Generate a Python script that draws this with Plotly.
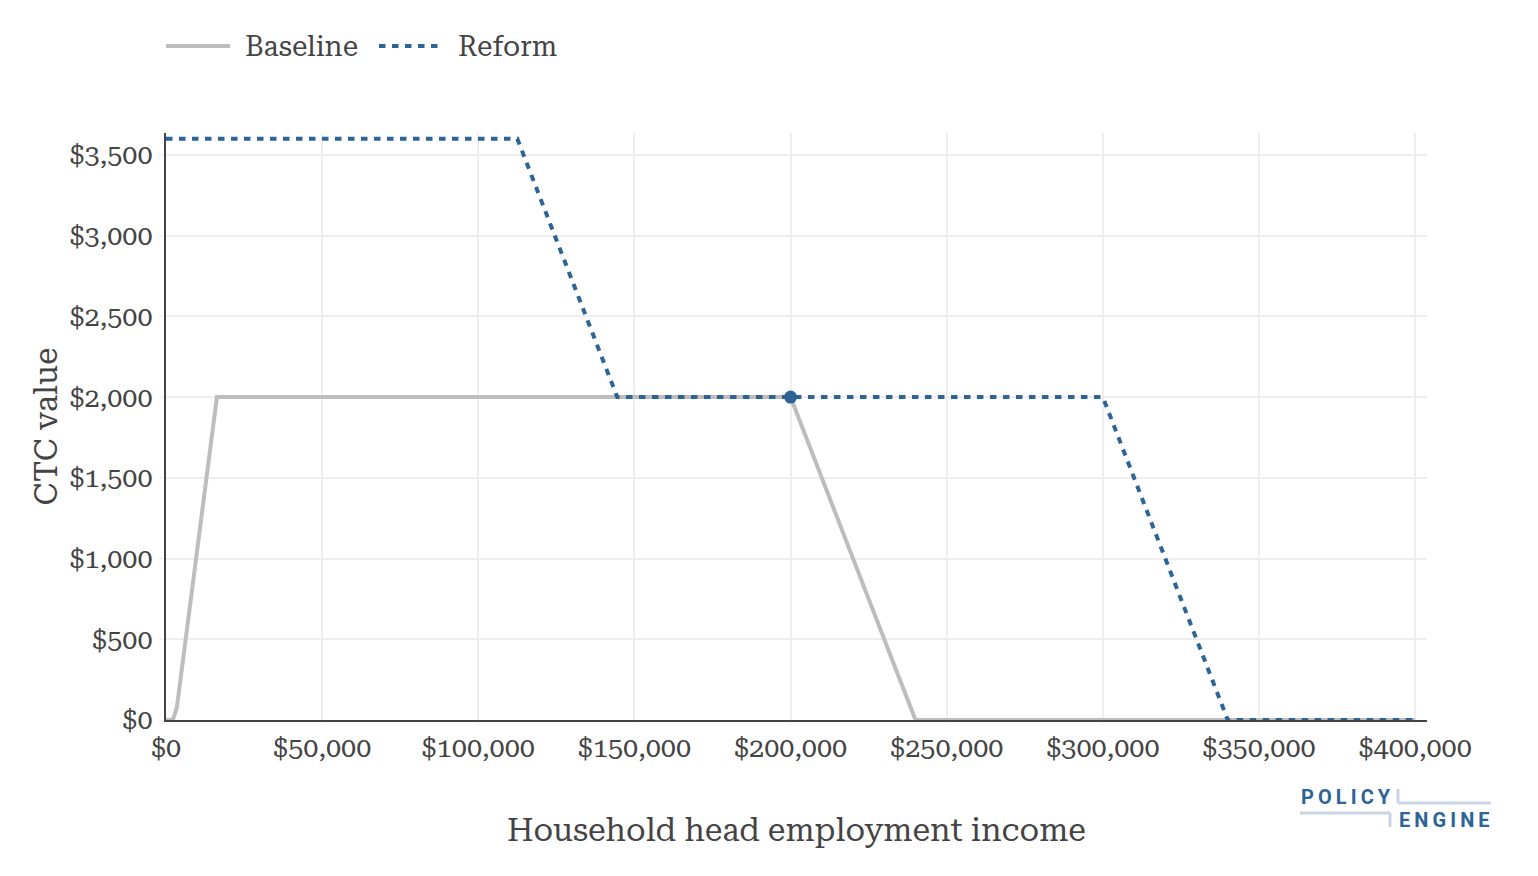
import plotly.graph_objects as go

# CTC schedule breakpoints
baseline_income = [0, 2200, 3500, 16300, 200000, 240000, 400000]
baseline_ctc = [0, 0, 80, 2000, 2000, 0, 0]

reform_income = [0, 112500, 144500, 200000, 300000, 340000, 400000]
reform_ctc = [3600, 3600, 2000, 2000, 2000, 0, 0]

# current household marker
marker_income = [200000]
marker_ctc = [2000]

legend_names = ["Baseline", "Reform"]

GRAY = "#BDBDBD"
BLUE = "#2C6496"
LIGHT = "#C8D4E3"
FONT = "Roboto Serif, DejaVu Serif, serif"
DASH = "6.5px,6.5px"

fig = go.Figure()
fig.add_trace(go.Scatter(x=baseline_income, y=baseline_ctc, mode="lines", name=legend_names[0],
                         line=dict(color=GRAY, width=4)))
fig.add_trace(go.Scatter(x=reform_income, y=reform_ctc, mode="lines", name=legend_names[1],
                         line=dict(color=BLUE, width=4, dash=DASH)))
fig.add_trace(go.Scatter(x=marker_income, y=marker_ctc, mode="markers",
                         marker=dict(color=BLUE, size=13)))

# page body has an 8px margin, so the figure is a bit smaller than the window
fig.update_layout(
    width=1522, height=860,
    margin=dict(l=158, r=103, t=125, b=148),
    plot_bgcolor="white", paper_bgcolor="white",
    showlegend=False,
    font=dict(family=FONT, size=27, color="#444"),
    xaxis=dict(title=dict(text="Household head employment income", font=dict(size=32), standoff=55),
               range=[0, 403800], tickformat="$,", dtick=50000,
               showgrid=True, gridcolor="#eee", gridwidth=2,
               zeroline=False, showline=True, linecolor="#444", linewidth=2,
               ticks="outside", ticklen=3, tickcolor="#eee"),
    yaxis=dict(title=dict(text="CTC value", font=dict(size=32), standoff=2),
               range=[0, 3636], tickformat="$,", dtick=500,
               showgrid=True, gridcolor="#eee", gridwidth=2,
               zeroline=False, showline=True, linecolor="#444", linewidth=2,
               ticks="outside", ticklen=6, tickcolor="#eee"),
)

# helpers: reference pixel -> paper coords
def px_x(p):
    return (p - 166) / 1261

def px_y(p):
    return (720 - p) / 587

# legend drawn by hand (longer line samples than plotly's)
fig.add_shape(type="line", xref="paper", yref="paper", x0=px_x(166), x1=px_x(230),
              y0=px_y(46), y1=px_y(46), line=dict(color=GRAY, width=4))
fig.add_shape(type="line", xref="paper", yref="paper", x0=px_x(379), x1=px_x(440),
              y0=px_y(46), y1=px_y(46), line=dict(color=BLUE, width=4, dash=DASH))
for name, xpos in zip(legend_names, [243, 456]):
    fig.add_annotation(text=name, x=px_x(xpos), y=px_y(46), xref="paper", yref="paper",
                       xanchor="left", yanchor="middle", showarrow=False,
                       font=dict(size=28))

# PolicyEngine logo drawn with text and lines
for word, xpos, ypos in [("POLICY", 1299, 797), ("ENGINE", 1397, 820)]:
    fig.add_annotation(text="<b>" + "\u2009".join(word) + "</b>", x=px_x(xpos), y=px_y(ypos),
                       xref="paper", yref="paper", xanchor="left", yanchor="middle",
                       showarrow=False, font=dict(family="Roboto", size=20, color=BLUE))
for x0, y0, x1, y1 in [(1300, 813, 1390, 813), (1390, 813, 1390, 827),
                       (1398, 789, 1398, 803), (1398, 803, 1491, 803)]:
    fig.add_shape(type="line", xref="paper", yref="paper",
                  x0=px_x(x0), y0=px_y(y0), x1=px_x(x1), y1=px_y(y1),
                  line=dict(color=LIGHT, width=3))

fig.write_html("out.html")
